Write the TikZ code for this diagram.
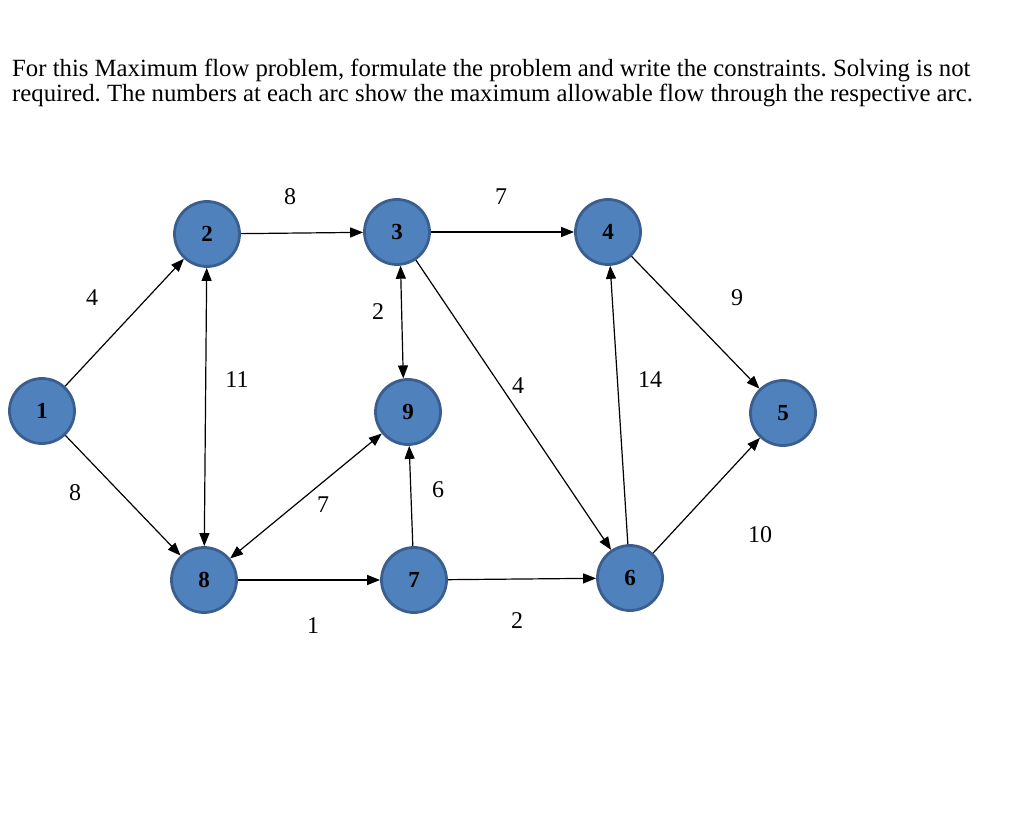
\documentclass[tikz,border=0pt]{standalone}
\usepackage{fontspec}
\setmainfont{Liberation Serif}
\frenchspacing
\usetikzlibrary{arrows.meta}
\definecolor{nodefill}{HTML}{4F81BD}
\definecolor{nodeedge}{HTML}{3A5F8F}
\tikzset{
  vert/.style={circle, fill=nodefill, draw=nodeedge, line width=2.8pt, minimum size=65pt, inner sep=0pt, font=\fontsize{23}{23}\selectfont\bfseries},
  arc/.style={line width=1.2pt, -{Triangle[length=13pt,width=10pt]}},
  biarc/.style={line width=1.2pt, {Triangle[length=13pt,width=10pt]}-{Triangle[length=13pt,width=10pt]}},
  arclabel/.style={font=\fontsize{24}{24}\selectfont, inner sep=0pt},
  titleline/.style={font=\fontsize{24.75}{26}\selectfont, anchor=base west, inner sep=0pt}
}
\begin{document}
\begin{tikzpicture}[x=1pt,y=-1pt]
\useasboundingbox[fill=white] (0,0) rectangle (1013,829);
\node[titleline] (t1) at (12,77) {For this Maximum flow problem, formulate the problem and write the constraints. Solving is not};
\node[titleline] (t2) at (12,102) {required. The numbers at each arc show the maximum allowable flow through the respective arc.};

\node[vert] (n1) at (42,411) {1};
\node[vert] (n2) at (207,234) {2};
\node[vert] (n3) at (397,232) {3};
\node[vert] (n4) at (608,232) {4};
\node[vert] (n5) at (783,413) {5};
\node[vert] (n9) at (408,412) {9};
\node[vert] (n8) at (204,580) {8};
\node[vert] (n7) at (414,580) {7};
\node[vert] (n6) at (630,578) {6};

\draw[arc] (n1) -- (n2);
\draw[arc] (n1) -- (n8);
\draw[arc] (n2) -- (n3);
\draw[biarc] (n2) -- (n8);
\draw[biarc] (n3.-84) -- (n9.98);
\draw[biarc] (n8) -- (n9);
\draw[arc] (n7.92) -- (n9.-88);
\draw[arc] (n8) -- (n7);
\draw[arc] (n7) -- (n6);
\draw[arc] (n3) -- (n6);
\draw[arc] (n3) -- (n4);
\draw[arc] (n6) -- (n4);
\draw[arc] (n4) -- (n5);
\draw[arc] (n6) -- (n5);

\node[arclabel] (l23) at (290,197) {8};
\node[arclabel] (l34) at (501,197) {7};
\node[arclabel] (l12) at (92,298) {4};
\node[arclabel] (l45) at (737,298) {9};
\node[arclabel] (l39) at (378,312) {2};
\node[arclabel] (l28) at (237,380) {11};
\node[arclabel] (l36) at (518,386) {4};
\node[arclabel] (l64) at (650,380) {14};
\node[arclabel] (l18) at (75,493) {8};
\node[arclabel] (l79) at (438,490) {6};
\node[arclabel] (l89) at (323,505) {7};
\node[arclabel] (l65) at (760,535) {10};
\node[arclabel] (l87) at (313,626) {1};
\node[arclabel] (l76) at (517,621) {2};
\end{tikzpicture}
\end{document}
